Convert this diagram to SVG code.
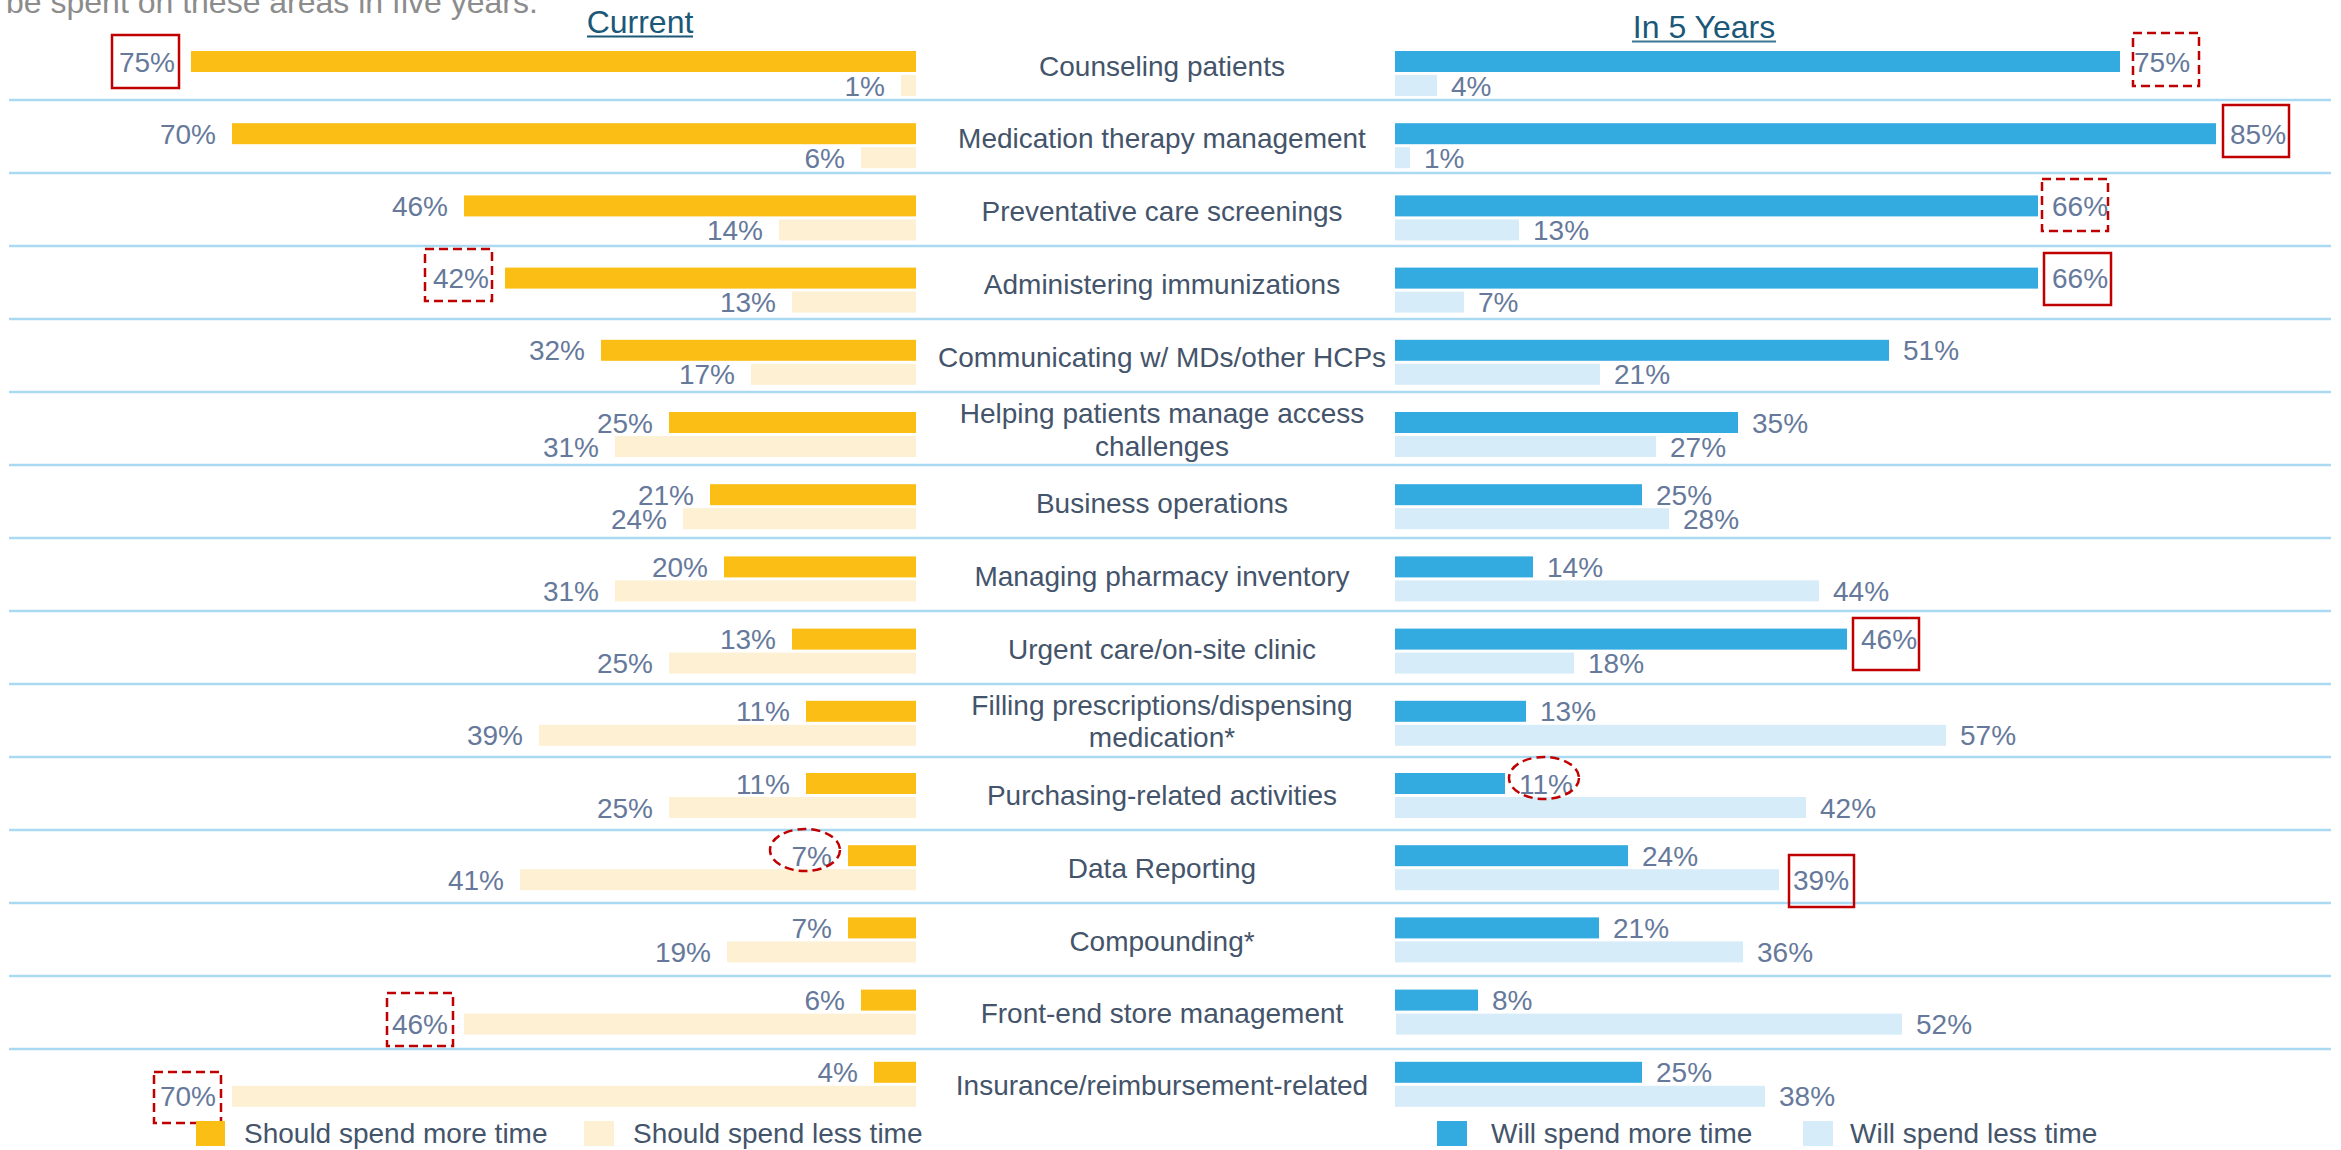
<svg xmlns="http://www.w3.org/2000/svg" width="2341" height="1150" viewBox="0 0 2341 1150">
<style>
text{font-family:"Liberation Sans",Arial,sans-serif}
.cat{font-size:28px;fill:#44546A;text-anchor:middle}
.vl{font-size:28px;fill:#66799B;text-anchor:end}
.vr{font-size:28px;fill:#66799B;text-anchor:start}
.lg{font-size:28px;fill:#44546A}
.ttl{font-size:32px;fill:#1B5878;text-anchor:middle}
.mo{fill:#FBBE14}
.lo{fill:#FEF0D2}
.mb{fill:#33AAE0}
.lb{fill:#D6ECF8}
.sep{stroke:#AADAF1;stroke-width:2.5}
.rs{fill:none;stroke:#C00000;stroke-width:2.5}
.rd{fill:none;stroke:#C00000;stroke-width:2.5;stroke-dasharray:9 5}
</style>
<rect width="2341" height="1150" fill="#fff"/>
<text x="6" y="13" font-size="32" fill="#8C8C8C">be spent on these areas in five years.</text>
<g id="titles">
<text class="ttl" x="640" y="33">Current</text>
<line x1="587" y1="36.5" x2="693" y2="36.5" stroke="#1B5878" stroke-width="2"/>
<text class="ttl" x="1704" y="37.5">In 5 Years</text>
<line x1="1632" y1="41.5" x2="1776" y2="41.5" stroke="#3F7592" stroke-width="2"/>
</g>
<g id="separators">
<line class="sep" x1="9" y1="100" x2="2331" y2="100"/>
<line class="sep" x1="9" y1="173" x2="2331" y2="173"/>
<line class="sep" x1="9" y1="246" x2="2331" y2="246"/>
<line class="sep" x1="9" y1="319" x2="2331" y2="319"/>
<line class="sep" x1="9" y1="392" x2="2331" y2="392"/>
<line class="sep" x1="9" y1="465" x2="2331" y2="465"/>
<line class="sep" x1="9" y1="538" x2="2331" y2="538"/>
<line class="sep" x1="9" y1="611" x2="2331" y2="611"/>
<line class="sep" x1="9" y1="684" x2="2331" y2="684"/>
<line class="sep" x1="9" y1="757" x2="2331" y2="757"/>
<line class="sep" x1="9" y1="830" x2="2331" y2="830"/>
<line class="sep" x1="9" y1="903" x2="2331" y2="903"/>
<line class="sep" x1="9" y1="976" x2="2331" y2="976"/>
<line class="sep" x1="9" y1="1049" x2="2331" y2="1049"/>
</g>

<g id="row0">
<rect class="mo" x="191" y="51" width="725" height="21"/>
<rect class="lo" x="901" y="75" width="15" height="21"/>
<text class="vl" x="175" y="71.5">75%</text>
<text class="vl" x="885" y="95.5">1%</text>
<text class="cat" x="1162" y="76">Counseling patients</text>
<rect class="mb" x="1395" y="51" width="725" height="21"/>
<rect class="lb" x="1395" y="75" width="42" height="21"/>
<text class="vr" x="2134" y="71.5">75%</text>
<text class="vr" x="1451" y="95.5">4%</text>
</g>
<g id="row1">
<rect class="mo" x="232" y="123.2" width="684" height="21"/>
<rect class="lo" x="861" y="147.2" width="55" height="21"/>
<text class="vl" x="216" y="143.7">70%</text>
<text class="vl" x="845" y="167.7">6%</text>
<text class="cat" x="1162" y="148">Medication therapy management</text>
<rect class="mb" x="1395" y="123.2" width="821" height="21"/>
<rect class="lb" x="1395" y="147.2" width="15" height="21"/>
<text class="vr" x="2230" y="143.7">85%</text>
<text class="vr" x="1424" y="167.7">1%</text>
</g>
<g id="row2">
<rect class="mo" x="464" y="195.4" width="452" height="21"/>
<rect class="lo" x="779" y="219.4" width="137" height="21"/>
<text class="vl" x="448" y="215.9">46%</text>
<text class="vl" x="763" y="239.9">14%</text>
<text class="cat" x="1162" y="221">Preventative care screenings</text>
<rect class="mb" x="1395" y="195.4" width="643" height="21"/>
<rect class="lb" x="1395" y="219.4" width="124" height="21"/>
<text class="vr" x="2052" y="215.9">66%</text>
<text class="vr" x="1533" y="239.9">13%</text>
</g>
<g id="row3">
<rect class="mo" x="505" y="267.6" width="411" height="21"/>
<rect class="lo" x="792" y="291.6" width="124" height="21"/>
<text class="vl" x="489" y="288.1">42%</text>
<text class="vl" x="776" y="312.1">13%</text>
<text class="cat" x="1162" y="294">Administering immunizations</text>
<rect class="mb" x="1395" y="267.6" width="643" height="21"/>
<rect class="lb" x="1395" y="291.6" width="69" height="21"/>
<text class="vr" x="2052" y="288.1">66%</text>
<text class="vr" x="1478" y="312.1">7%</text>
</g>
<g id="row4">
<rect class="mo" x="601" y="339.8" width="315" height="21"/>
<rect class="lo" x="751" y="363.8" width="165" height="21"/>
<text class="vl" x="585" y="360.3">32%</text>
<text class="vl" x="735" y="384.3">17%</text>
<text class="cat" x="1162" y="367">Communicating w/ MDs/other HCPs</text>
<rect class="mb" x="1395" y="339.8" width="494" height="21"/>
<rect class="lb" x="1395" y="363.8" width="205" height="21"/>
<text class="vr" x="1903" y="360.3">51%</text>
<text class="vr" x="1614" y="384.3">21%</text>
</g>
<g id="row5">
<rect class="mo" x="669" y="412" width="247" height="21"/>
<rect class="lo" x="615" y="436" width="301" height="21"/>
<text class="vl" x="653" y="432.5">25%</text>
<text class="vl" x="599" y="456.5">31%</text>
<text class="cat" x="1162" y="423">Helping patients manage access</text>
<text class="cat" x="1162" y="456">challenges</text>
<rect class="mb" x="1395" y="412" width="343" height="21"/>
<rect class="lb" x="1395" y="436" width="261" height="21"/>
<text class="vr" x="1752" y="432.5">35%</text>
<text class="vr" x="1670" y="456.5">27%</text>
</g>
<g id="row6">
<rect class="mo" x="710" y="484.2" width="206" height="21"/>
<rect class="lo" x="683" y="508.2" width="233" height="21"/>
<text class="vl" x="694" y="504.7">21%</text>
<text class="vl" x="667" y="528.7">24%</text>
<text class="cat" x="1162" y="513">Business operations</text>
<rect class="mb" x="1395" y="484.2" width="247" height="21"/>
<rect class="lb" x="1395" y="508.2" width="274" height="21"/>
<text class="vr" x="1656" y="504.7">25%</text>
<text class="vr" x="1683" y="528.7">28%</text>
</g>
<g id="row7">
<rect class="mo" x="724" y="556.4" width="192" height="21"/>
<rect class="lo" x="615" y="580.4" width="301" height="21"/>
<text class="vl" x="708" y="576.9">20%</text>
<text class="vl" x="599" y="600.9">31%</text>
<text class="cat" x="1162" y="586">Managing pharmacy inventory</text>
<rect class="mb" x="1395" y="556.4" width="138" height="21"/>
<rect class="lb" x="1395" y="580.4" width="424" height="21"/>
<text class="vr" x="1547" y="576.9">14%</text>
<text class="vr" x="1833" y="600.9">44%</text>
</g>
<g id="row8">
<rect class="mo" x="792" y="628.6" width="124" height="21"/>
<rect class="lo" x="669" y="652.6" width="247" height="21"/>
<text class="vl" x="776" y="649.1">13%</text>
<text class="vl" x="653" y="673.1">25%</text>
<text class="cat" x="1162" y="659">Urgent care/on-site clinic</text>
<rect class="mb" x="1395" y="628.6" width="452" height="21"/>
<rect class="lb" x="1395" y="652.6" width="179" height="21"/>
<text class="vr" x="1861" y="649.1">46%</text>
<text class="vr" x="1588" y="673.1">18%</text>
</g>
<g id="row9">
<rect class="mo" x="806" y="700.8" width="110" height="21"/>
<rect class="lo" x="539" y="724.8" width="377" height="21"/>
<text class="vl" x="790" y="721.3">11%</text>
<text class="vl" x="523" y="745.3">39%</text>
<text class="cat" x="1162" y="715">Filling prescriptions/dispensing</text>
<text class="cat" x="1162" y="747">medication*</text>
<rect class="mb" x="1395" y="700.8" width="131" height="21"/>
<rect class="lb" x="1395" y="724.8" width="551" height="21"/>
<text class="vr" x="1540" y="721.3">13%</text>
<text class="vr" x="1960" y="745.3">57%</text>
</g>
<g id="row10">
<rect class="mo" x="806" y="773" width="110" height="21"/>
<rect class="lo" x="669" y="797" width="247" height="21"/>
<text class="vl" x="790" y="793.5">11%</text>
<text class="vl" x="653" y="817.5">25%</text>
<text class="cat" x="1162" y="805">Purchasing-related activities</text>
<rect class="mb" x="1395" y="773" width="110" height="21"/>
<rect class="lb" x="1395" y="797" width="411" height="21"/>
<text class="vr" x="1519" y="793.5">11%</text>
<text class="vr" x="1820" y="817.5">42%</text>
</g>
<g id="row11">
<rect class="mo" x="848" y="845.2" width="68" height="21"/>
<rect class="lo" x="520" y="869.2" width="396" height="21"/>
<text class="vl" x="832" y="865.7">7%</text>
<text class="vl" x="504" y="889.7">41%</text>
<text class="cat" x="1162" y="878">Data Reporting</text>
<rect class="mb" x="1395" y="845.2" width="233" height="21"/>
<rect class="lb" x="1395" y="869.2" width="384" height="21"/>
<text class="vr" x="1642" y="865.7">24%</text>
<text class="vr" x="1793" y="889.7">39%</text>
</g>
<g id="row12">
<rect class="mo" x="848" y="917.4" width="68" height="21"/>
<rect class="lo" x="727" y="941.4" width="189" height="21"/>
<text class="vl" x="832" y="937.9">7%</text>
<text class="vl" x="711" y="961.9">19%</text>
<text class="cat" x="1162" y="951">Compounding*</text>
<rect class="mb" x="1395" y="917.4" width="204" height="21"/>
<rect class="lb" x="1395" y="941.4" width="348" height="21"/>
<text class="vr" x="1613" y="937.9">21%</text>
<text class="vr" x="1757" y="961.9">36%</text>
</g>
<g id="row13">
<rect class="mo" x="861" y="989.6" width="55" height="21"/>
<rect class="lo" x="464" y="1013.6" width="452" height="21"/>
<text class="vl" x="845" y="1010.1">6%</text>
<text class="vl" x="448" y="1034.1">46%</text>
<text class="cat" x="1162" y="1023">Front-end store management</text>
<rect class="mb" x="1395" y="989.6" width="83" height="21"/>
<rect class="lb" x="1396" y="1013.6" width="506" height="21"/>
<text class="vr" x="1492" y="1010.1">8%</text>
<text class="vr" x="1916" y="1034.1">52%</text>
</g>
<g id="row14">
<rect class="mo" x="874" y="1061.8" width="42" height="21"/>
<rect class="lo" x="232" y="1085.8" width="684" height="21"/>
<text class="vl" x="858" y="1082.3">4%</text>
<text class="vl" x="216" y="1106.3">70%</text>
<text class="cat" x="1162" y="1095">Insurance/reimbursement-related</text>
<rect class="mb" x="1395" y="1061.8" width="247" height="21"/>
<rect class="lb" x="1395" y="1085.8" width="370" height="21"/>
<text class="vr" x="1656" y="1082.3">25%</text>
<text class="vr" x="1779" y="1106.3">38%</text>
</g>

<g id="highlights">
<rect class="rs" x="112" y="35" width="67" height="53"/>
<rect class="rd" x="425" y="249" width="67" height="52"/>
<rect class="rd" x="2133" y="33" width="66" height="53"/>
<rect class="rs" x="2223" y="105" width="66" height="52"/>
<rect class="rd" x="2042" y="179" width="66" height="52"/>
<rect class="rs" x="2044" y="253" width="67" height="52"/>
<rect class="rs" x="1853" y="618" width="66" height="52"/>
<ellipse class="rd" cx="1544" cy="778" rx="35" ry="21"/>
<rect class="rs" x="1789" y="855" width="65" height="52"/>
<ellipse class="rd" cx="805" cy="850" rx="35" ry="21"/>
<rect class="rd" x="387" y="993" width="66" height="53"/>
<rect class="rd" x="154" y="1072" width="67" height="51"/>
</g>

<g id="legend">
<rect class="mo" x="196" y="1121" width="29" height="25"/>
<text class="lg" x="244" y="1143">Should spend more time</text>
<rect class="lo" x="584" y="1121" width="30" height="25"/>
<text class="lg" x="633" y="1143">Should spend less time</text>
<rect class="mb" x="1437" y="1121" width="30" height="25"/>
<text class="lg" x="1491" y="1143">Will spend more time</text>
<rect class="lb" x="1803" y="1121" width="30" height="25"/>
<text class="lg" x="1850" y="1143">Will spend less time</text>
</g>
</svg>
